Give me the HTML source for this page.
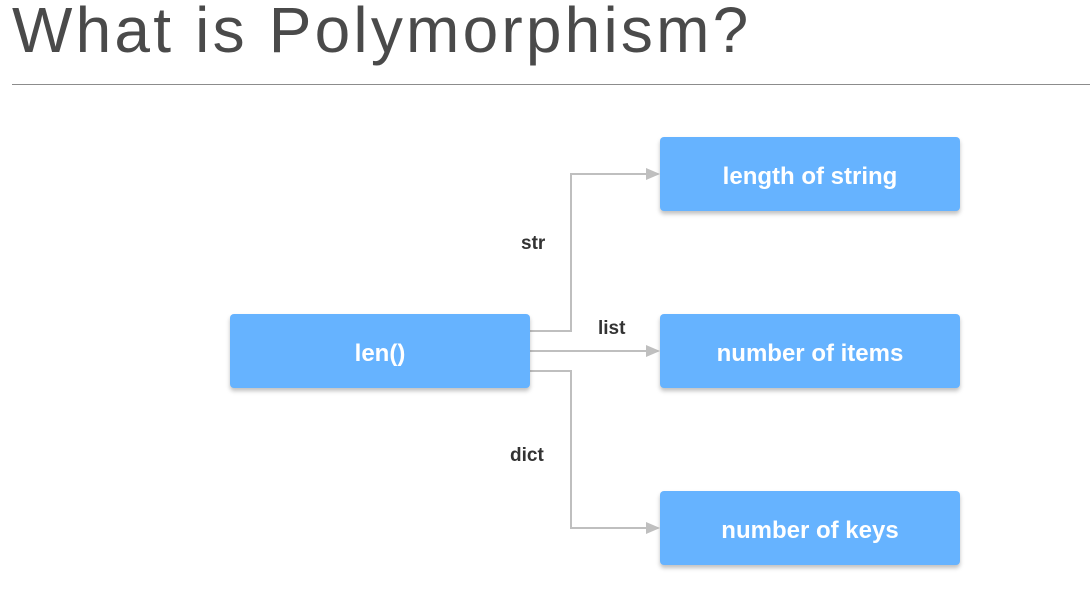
<!DOCTYPE html>
<html><head><style>
body{margin:0;width:1090px;height:589px;background:#fff;overflow:hidden;position:relative;font-family:"Liberation Sans",sans-serif}
.t{position:absolute;left:12px;top:-7px;font-size:64px;color:#4a4a4a;font-weight:normal;letter-spacing:3.2px;white-space:nowrap}
.hr{position:absolute;left:12px;top:84px;width:1078px;height:1px;background:#8c8c8c}
.b{position:absolute;width:300px;height:74px;box-sizing:border-box;padding-top:5px;background:#66b3ff;border-radius:4px;box-shadow:0 3px 4px rgba(0,0,0,.25);color:#fff;font-weight:bold;font-size:24px;display:flex;align-items:center;justify-content:center}
.l{position:absolute;font-weight:bold;font-size:19px;color:#333}
</style></head><body>
<div class="t">What is Polymorphism?</div>
<div class="hr"></div>
<svg width="1090" height="589" style="position:absolute;left:0;top:0">
<g stroke="#bfbfbf" stroke-width="2" fill="none">
<polyline points="530,331 571,331 571,174 648,174"/>
<polyline points="530,351 648,351"/>
<polyline points="530,371 571,371 571,528 648,528"/>
</g>
<g fill="#bfbfbf">
<polygon points="646,168 660,174 646,180"/>
<polygon points="646,345 660,351 646,357"/>
<polygon points="646,522 660,528 646,534"/>
</g>
</svg>
<div class="b" style="left:230px;top:314px">len()</div>
<div class="b" style="left:660px;top:137px">length of string</div>
<div class="b" style="left:660px;top:314px">number of items</div>
<div class="b" style="left:660px;top:491px">number of keys</div>
<div class="l" style="left:521px;top:233px">str</div>
<div class="l" style="left:598px;top:318px">list</div>
<div class="l" style="left:510px;top:445px">dict</div>
</body></html>
